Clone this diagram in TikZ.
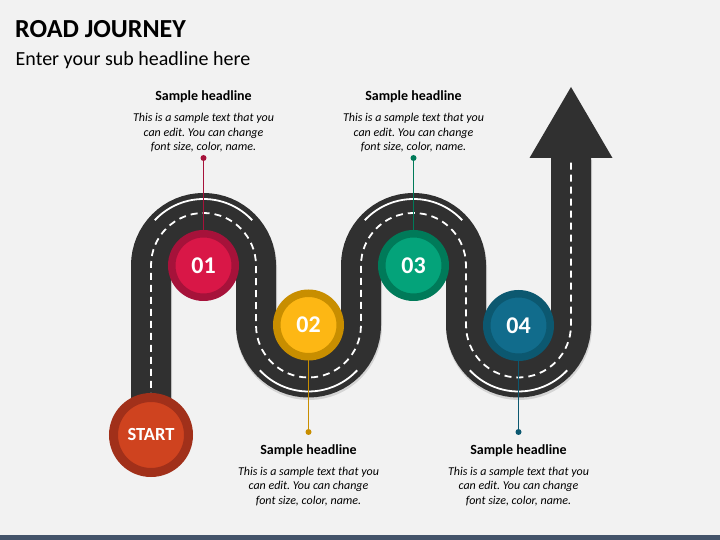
\documentclass[tikz,border=0pt]{standalone}
\usepackage{fontspec}
\setmainfont{Carlito}
\frenchspacing
\definecolor{bg}{HTML}{F2F2F2}
\definecolor{road}{HTML}{303030}
\definecolor{barc}{HTML}{44546A}
\definecolor{redo}{HTML}{A6123A}\definecolor{redi}{HTML}{D91747}
\definecolor{ambo}{HTML}{C88E00}\definecolor{ambi}{HTML}{FDB714}
\definecolor{grno}{HTML}{007A59}\definecolor{grni}{HTML}{04A37A}
\definecolor{tlo}{HTML}{0C5870}\definecolor{tli}{HTML}{116C8C}
\definecolor{sto}{HTML}{A1301A}\definecolor{sti}{HTML}{CF431F}
\tikzset{
  roadpath/.style={line width=40pt, road},
  centerdash/.style={white, line width=1.8pt, dash pattern=on 7pt off 5pt},
  edgeline/.style={white, line width=1.8pt},
  stepcircle/.style={circle, inner sep=0pt, minimum size=63.5pt, line width=7.5pt, text=white,
     font=\fontsize{24}{24}\selectfont\bfseries,
     preaction={fill=black, opacity=0.22, transform canvas={yshift=-2pt}}},
  leader/.style={line width=1.5pt},
  headline/.style={font=\fontsize{14}{16}\selectfont\bfseries, inner sep=0pt, anchor=base},
  bodytext/.style={font=\fontsize{12}{14.5}\selectfont\itshape, align=center, inner sep=0pt, anchor=base},
}
\begin{document}
\begin{tikzpicture}[x=1pt,y=1pt]
\fill[bg] (0,0) rectangle (720,540);
\useasboundingbox (0,0) rectangle (720,540);
\fill[barc] (0,0) rectangle (720,5);
% titles
\node[anchor=base west, inner sep=0pt, font=\fontsize{26}{28}\selectfont\bfseries] (title) at (15,502.7) {ROAD JOURNEY};
\node[anchor=base west, inner sep=0pt, font=\fontsize{20}{22}\selectfont] (sub) at (15.5,474.3) {Enter your sub headline here};
% road shadow
\draw[line width=41pt, black, opacity=0.12, transform canvas={xshift=0.5pt,yshift=-2pt}]
  (151,105) -- (151,274.5) arc[start angle=180,end angle=0,radius=52.5pt]
  -- (256,215) arc[start angle=180,end angle=360,radius=52.5pt]
  -- (361,274.5) arc[start angle=180,end angle=0,radius=52.5pt]
  -- (466,215) arc[start angle=180,end angle=360,radius=52.5pt]
  -- (571,382);
% road
\draw[roadpath]
  (151,105) -- (151,274.5) arc[start angle=180,end angle=0,radius=52.5pt]
  -- (256,215) arc[start angle=180,end angle=360,radius=52.5pt]
  -- (361,274.5) arc[start angle=180,end angle=0,radius=52.5pt]
  -- (466,215) arc[start angle=180,end angle=360,radius=52.5pt]
  -- (571,382.5);
\fill[road] (529.5,382) -- (612.5,382) -- (571,453) -- cycle;
% center dashes
\draw[centerdash]
  (151,140) -- (151,274.5) arc[start angle=180,end angle=0,radius=52.5pt]
  -- (256,215) arc[start angle=180,end angle=360,radius=52.5pt]
  -- (361,274.5) arc[start angle=180,end angle=0,radius=52.5pt]
  -- (466,215) arc[start angle=180,end angle=360,radius=52.5pt]
  -- (571,382);
% outer edge arcs
\draw[edgeline] (203.5,274.5) ++(43:66.5pt) arc[start angle=43,end angle=137,radius=66.5pt];
\draw[edgeline] (308.5,215) ++(223:66.5pt) arc[start angle=223,end angle=317,radius=66.5pt];
\draw[edgeline] (413.5,274.5) ++(43:66.5pt) arc[start angle=43,end angle=137,radius=66.5pt];
\draw[edgeline] (518.5,215) ++(223:66.5pt) arc[start angle=223,end angle=317,radius=66.5pt];
% circles
\node[stepcircle, draw=redo, fill=redi] (c1) at (203.5,274.5) {01};
\node[stepcircle, draw=ambo, fill=ambi] (c2) at (308.5,215) {02};
\node[stepcircle, draw=grno, fill=grni] (c3) at (413.5,274.5) {03};
\node[stepcircle, draw=tlo, fill=tli] (c4) at (518.5,214.5) {04};
\node[stepcircle, draw=sto, fill=sti, minimum size=75pt, line width=9pt,
      font=\fontsize{18.5}{18.5}\selectfont\bfseries] (start) at (151,105) {START};
% leaders
\coordinate (d1) at (203.5,382);
\coordinate (d2) at (308.5,108);
\coordinate (d3) at (413.5,382);
\coordinate (d4) at (518.5,108);
\draw[leader, redo] (d1) -- (c1.north); \fill[redo] (d1) circle (3pt);
\draw[leader, ambo] (c2.south) -- (d2); \fill[ambo] (d2) circle (3pt);
\draw[leader, grno] (d3) -- (c3.north); \fill[grno] (d3) circle (3pt);
\draw[leader, tlo] (c4.south) -- (d4); \fill[tlo] (d4) circle (3pt);
% texts
\node[headline] (h1) at (203.5,439) {Sample headline};
\node[bodytext] (b1) at (203.5,389) {This is a sample text that you\\can edit. You can change\\font size, color, name.};
\node[headline] (h3) at (413.5,439) {Sample headline};
\node[bodytext] (b3) at (413.5,389) {This is a sample text that you\\can edit. You can change\\font size, color, name.};
\node[headline] (h2) at (308.5,85.5) {Sample headline};
\node[bodytext] (b2) at (308.5,35.5) {This is a sample text that you\\can edit. You can change\\font size, color, name.};
\node[headline] (h4) at (518.5,85.5) {Sample headline};
\node[bodytext] (b4) at (518.5,35.5) {This is a sample text that you\\can edit. You can change\\font size, color, name.};
\end{tikzpicture}
\end{document}
